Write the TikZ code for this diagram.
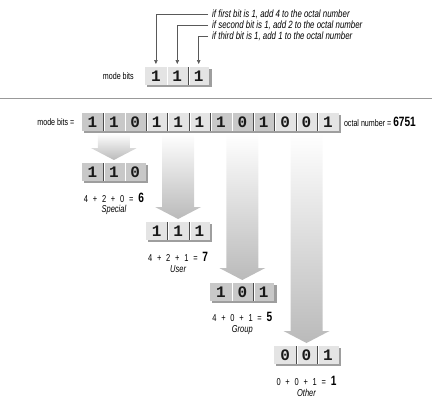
\documentclass[tikz,border=0pt]{standalone}
\usepackage{fontspec}
\usetikzlibrary{arrows.meta, positioning, backgrounds, calc}
\newfontfamily\condfont[FakeStretch=0.75]{Liberation Sans}
\newfontfamily\bitfont{Liberation Mono}
\definecolor{celldark}{HTML}{C8C8C8}
\definecolor{celllight}{HTML}{E4E4E4}
\definecolor{cellshadow}{HTML}{9E9E9E}
\newcommand{\octres}[1]{{\bfseries\fontsize{13.5}{13}\selectfont #1}}
\tikzset{
    bitcell/.style = {
        rectangle, minimum width=21.4pt, minimum height=18pt, inner sep=0pt,
        font=\bitfont\bfseries\fontsize{16}{16}\selectfont, text=black!90
    },
    % Cells
    darkcell/.style  = {bitcell, fill=celldark},
    lightcell/.style = {bitcell, fill=celllight},
    divider/.style   = {black!70, line width=0.5pt},
    highlight/.style = {white, line width=0.6pt},
    % Texts and connectors
    label/.style   = {font=\condfont\fontsize{9.5}{10}\selectfont, inner sep=0pt},
    note/.style    = {font=\condfont\itshape\fontsize{10.5}{11}\selectfont, anchor=west, inner sep=0pt},
    sumtext/.style = {font=\condfont\fontsize{10}{10}\selectfont, inner sep=0pt},
    owner/.style   = {font=\condfont\itshape\fontsize{10}{10}\selectfont, inner sep=0pt},
    pointer/.style = {black!65, line width=0.6pt, -{Triangle[length=4pt,width=3.5pt]},
        shorten <=4pt, shorten >=3pt},
    bigarrow/.style = {top color=white, bottom color=black!27},
    rule/.style = {black!40, line width=1pt}
}
\begin{document}
\begin{tikzpicture}[x=1pt, y=-1pt]
    \useasboundingbox (0,0) rectangle (432,400);

    % the 12 mode bits
    \foreach \b [count=\i] in {1,1,0,1,1,1,1,0,1,0,0,1} {
        \pgfmathtruncatemacro{\grp}{mod(int((\i-1)/3),2)}
        \ifnum\grp=0 \def\sty{darkcell}\else\def\sty{lightcell}\fi
        \node[\sty, anchor=north west] (m\i) at ({81.6+21.4*(\i-1)},113) {\b};
    }
    \foreach \i in {1,...,11} {
        \draw[divider] (m\i.north east) -- (m\i.south east);
        \draw[highlight] ([xshift=0.8pt]m\i.north east) -- ([xshift=0.8pt]m\i.south east);
    }
    \begin{scope}[on background layer]
        \fill[cellshadow] ($(m1.north west)+(2,2)$) rectangle ($(m12.south east)+(2,2)$);
    \end{scope}
    \node[label, left=7pt of m1] (mainlbl) {mode bits =};
    \node[label, right=5pt of m12] (octal) {octal number = \octres{6751}};

    % three-bit boxes
    \foreach \nm/\bx/\by/\bits/\sty in {
        t/145/67/{1,1,1}/lightcell,
        a/81.6/163/{1,1,0}/darkcell,
        b/145.8/222/{1,1,1}/lightcell,
        c/210/283/{1,0,1}/darkcell,
        d/274.2/346/{0,0,1}/lightcell} {
        \foreach \b [count=\i] in \bits
            \node[\sty, anchor=north west] (\nm\i) at ({\bx+21.4*(\i-1)},\by) {\b};
        \foreach \i in {1,2} {
            \draw[divider] (\nm\i.north east) -- (\nm\i.south east);
            \draw[highlight] ([xshift=0.8pt]\nm\i.north east) -- ([xshift=0.8pt]\nm\i.south east);
        }
        \begin{scope}[on background layer]
            \fill[cellshadow] ($(\nm1.north west)+(2,2)$) rectangle ($(\nm3.south east)+(2,2)$);
        \end{scope}
    }
    \node[label, left=11pt of t1] (toplbl) {mode bits};

    % what each bit is worth
    \node[note] (n1) at (212,14) {if first bit is 1, add 4 to the octal number};
    \node[note] (n2) at (212,25) {if second bit is 1, add 2 to the octal number};
    \node[note] (n3) at (212,36) {if third bit is 1, add 1 to the octal number};
    \draw[pointer] (n1.west) -| (t1.north);
    \draw[pointer] (n2.west) -| (t2.north);
    \draw[pointer] (n3.west) -| (t3.north);

    \draw[rule] (0,98) -- (432,98);

    % sums and owners
    \foreach \nm/\p/\q/\r/\s/\who in {a/4/2/0/6/Special, b/4/2/1/7/User,
        c/4/0/1/5/Group, d/0/0/1/1/Other} {
        \node[sumtext] (\nm-sum) at ($(\nm2.south)+(0,16)$)
            {\makebox[60pt]{\p\hfill+\hfill\q\hfill+\hfill\r\hfill=\hfill\octres{\s}}};
        \node[owner] (\nm-name) at ($(\nm2.south)+(0,29)$) {\who};
    }

    % wide arrows
    \begin{scope}[on background layer]
        \foreach \g/\nm in {2/a, 5/b, 8/c, 11/d}
            \path[bigarrow] ($(m\g.south)+(-16,2)$) -- ($(m\g.south)+(16,2)$)
                -- ($(m\g.south |- \nm2.north)+(16,-15)$) -- ($(m\g.south |- \nm2.north)+(23,-15)$)
                -- ($(m\g.south |- \nm2.north)+(0,-3)$) -- ($(m\g.south |- \nm2.north)+(-23,-15)$)
                -- ($(m\g.south |- \nm2.north)+(-16,-15)$) -- cycle;
    \end{scope}
\end{tikzpicture}
\end{document}
